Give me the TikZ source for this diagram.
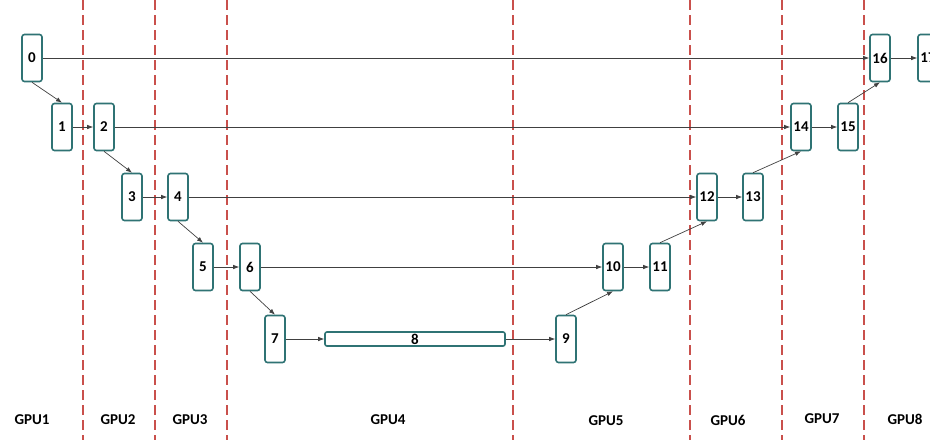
\documentclass[tikz,border=0pt]{standalone}
\usepackage{fontspec}
\setmainfont{Carlito}
\usetikzlibrary{arrows.meta}
\definecolor{teal1}{HTML}{2F7374}
\definecolor{dred}{HTML}{C9504C}
\definecolor{eline}{HTML}{404040}
\begin{document}
\begin{tikzpicture}[x=1pt,y=-1pt,
  blk/.style={draw=teal1,line width=1.6pt,rounded corners=2.5pt,fill=white,minimum width=20pt,minimum height=47pt,inner sep=0pt,font=\fontsize{15}{15}\selectfont\bfseries},
  bar/.style={draw=teal1,line width=1.6pt,rounded corners=2pt,fill=white,minimum width=180pt,minimum height=14pt,inner sep=0pt,font=\fontsize{15}{15}\selectfont\bfseries},
  sep/.style={draw=dred,line width=1.4pt,dash pattern=on 10pt off 5pt},
  edge/.style={draw=eline,line width=0.7pt,-{Latex[length=6pt,width=4.5pt]}},
  gpu/.style={font=\fontsize{15}{15}\selectfont\bfseries}]
\useasboundingbox (0,0) rectangle (930,440);
\fill[white] (0,0) rectangle (930,440);
% separators
\foreach \x/\n in {83/s1,155/s2,227/s3,513/s4,690/s5,782/s6,864/s7}{
  \coordinate (\n t) at (\x,0);
  \coordinate (\n b) at (\x,440);
  \draw[sep] (\n t) -- (\n b);
}
% nodes
\node[blk] (n0) at (32,58) {0};
\node[blk] (n1) at (62,127) {1};
\node[blk] (n2) at (104,127) {2};
\node[blk] (n3) at (132,197) {3};
\node[blk] (n4) at (178,197) {4};
\node[blk] (n5) at (203,267) {5};
\node[blk] (n6) at (250,267) {6};
\node[blk] (n7) at (275,339) {7};
\node[bar] (n8) at (415,339) {8};
\node[blk] (n9) at (566,339) {9};
\node[blk] (n10) at (613,267) {10};
\node[blk] (n11) at (660,267) {11};
\node[blk] (n12) at (707,197) {12};
\node[blk] (n13) at (753,197) {13};
\node[blk] (n14) at (801,127) {14};
\node[blk] (n15) at (848,127) {15};
\node[blk] (n16) at (880,58) {16};
\node[blk] (n17) at (928,58) {17};
% edges
\draw[edge] (n0.south) -- (n1.north);
\draw[edge] (n1) -- (n2);
\draw[edge] (n2.south) -- (n3.north);
\draw[edge] (n3) -- (n4);
\draw[edge] (n4.south) -- (n5.north);
\draw[edge] (n5) -- (n6);
\draw[edge] (n6.south) -- (n7.north);
\draw[edge] (n7) -- (n8);
\draw[edge] (n8) -- (n9);
\draw[edge] (n9.north) -- (n10.south);
\draw[edge] (n10) -- (n11);
\draw[edge] (n11.north) -- (n12.south);
\draw[edge] (n12) -- (n13);
\draw[edge] (n13.north) -- (n14.south);
\draw[edge] (n14) -- (n15);
\draw[edge] (n15.north) -- (n16.south);
\draw[edge] (n16) -- (n17);
\draw[edge] (n0) -- (n16);
\draw[edge] (n2) -- (n14);
\draw[edge] (n4) -- (n12);
\draw[edge] (n6) -- (n10);
% GPU labels
\node[gpu] (g1) at (32,420) {GPU1};
\node[gpu] (g2) at (118,420) {GPU2};
\node[gpu] (g3) at (190,420) {GPU3};
\node[gpu] (g4) at (388,420) {GPU4};
\node[gpu] (g5) at (606,421) {GPU5};
\node[gpu] (g6) at (728,420) {GPU6};
\node[gpu] (g7) at (822,419) {GPU7};
\node[gpu] (g8) at (905,419) {GPU8};
\end{tikzpicture}
\end{document}
